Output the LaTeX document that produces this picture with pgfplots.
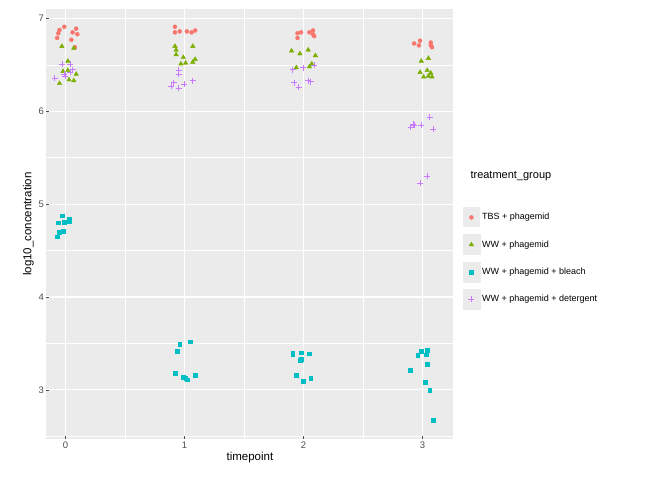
\documentclass[border=0pt]{standalone}
\usepackage{pgfplots}
\pgfplotsset{compat=1.18}
\usepackage{fontspec}
\setmainfont{Liberation Sans}
\definecolor{cR}{HTML}{F8766D}
\definecolor{cG}{HTML}{7CAE00}
\definecolor{cB}{HTML}{00BFC4}
\definecolor{cP}{HTML}{C77CFF}
\definecolor{bg}{HTML}{EBEBEB}
\definecolor{tk}{HTML}{4D4D4D}
\begin{document}
\begin{tikzpicture}[x=1pt,y=1pt]
\useasboundingbox (0,0) rectangle (672,480);
\begin{axis}[at={(39,44)},anchor=south west,scale only axis,width=407,height=430,
 xmin=-0.16,xmax=3.26,ymin=2.47,ymax=7.1,
 axis background/.style={fill=bg},axis line style={draw=none},
 xtick={0,1,2,3},ytick={3,4,5,6,7},
 minor xtick={0.5,1.5,2.5},minor ytick={2.5,3.5,4.5,5.5,6.5},
 grid=both,major grid style={white,line width=1.1pt},minor grid style={white,line width=0.5pt},
 tick style={tk,line width=0.5pt},major tick length=3pt,tick pos=left,minor tick length=0pt,
 tick label style={font=\fontsize{9.5}{11}\selectfont,text=tk},
 xticklabel style={yshift=1pt},yticklabel style={xshift=1pt},
 /pgf/number format/assume math mode=true,
 xlabel={timepoint},ylabel={log10\_concentration},
 label style={font=\fontsize{11.5}{13}\selectfont},
 xlabel style={yshift=3pt},ylabel style={yshift=-2pt},
 legend style={at={(1.015,0.42)},anchor=west,draw=none,fill=none,font=\fontsize{9}{10}\selectfont,row sep=7pt},
 legend cell align=left,
 legend image code/.code={\fill[bg] (-1pt,-10pt) rectangle (16pt,10pt); \draw[#1] plot coordinates {(7.5pt,0pt)};},
]
\addplot[only marks,mark=*,mark size=2pt,draw=none,fill=cR,mark options={draw=cR,fill=cR}] coordinates {
(-0.01,6.91)(-0.05,6.875)(-0.06,6.84)(-0.07,6.79)(0.09,6.89)(0.06,6.85)(0.10,6.83)(0.05,6.77)(0.08,6.69)
(0.92,6.91)(0.92,6.85)(0.96,6.86)(1.02,6.86)(1.06,6.85)(1.09,6.87)
(1.95,6.84)(1.95,6.79)(1.98,6.85)(2.05,6.85)(2.08,6.87)(2.09,6.81)(2.08,6.83)
(2.93,6.73)(2.97,6.71)(2.98,6.76)(3.07,6.74)(3.08,6.69)(3.07,6.71)};
\addlegendentry{TBS + phagemid}
\addplot[only marks,mark=triangle*,mark size=2.6pt,mark options={draw=cG,fill=cG}] coordinates {
(-0.03,6.70)(0.07,6.68)(0.02,6.54)(-0.02,6.43)(0.02,6.44)(0.09,6.40)(-0.05,6.30)(0.03,6.34)(0.07,6.33)
(0.92,6.70)(0.93,6.66)(0.93,6.61)(1.07,6.70)(0.99,6.58)(1.09,6.56)(0.97,6.51)(1.01,6.52)(1.07,6.53)
(1.90,6.65)(1.97,6.62)(2.04,6.66)(2.10,6.60)(1.94,6.47)(2.05,6.48)(2.07,6.51)
(2.99,6.54)(3.05,6.57)(2.98,6.42)(3.04,6.44)(3.01,6.37)(3.07,6.41)(3.08,6.37)(3.05,6.38)};
\addlegendentry{WW + phagemid}
\addplot[only marks,mark=square*,mark size=1.9pt,mark options={draw=cB,fill=cB}] coordinates {
(-0.03,4.875)(0.03,4.84)(-0.06,4.80)(-0.01,4.81)(-0.02,4.71)(-0.05,4.70)(-0.07,4.65)(0.03,4.82)
(0.96,3.49)(1.05,3.52)(0.94,3.42)(0.92,3.18)(0.99,3.14)(1.01,3.13)(1.02,3.11)(1.09,3.16)
(1.91,3.40)(1.91,3.38)(1.98,3.40)(2.05,3.39)(1.97,3.32)(1.98,3.33)(1.94,3.16)(2.00,3.09)(2.06,3.13)
(2.99,3.42)(3.04,3.43)(2.96,3.37)(3.03,3.38)(3.04,3.28)(2.90,3.21)(3.02,3.08)(3.06,3.00)(3.09,2.67)};
\addlegendentry{WW + phagemid + bleach}
\addplot[only marks,mark=+,mark size=3pt,mark options={draw=cP,line width=0.6pt}] coordinates {
(-0.03,6.51)(0.04,6.51)(0.06,6.45)(-0.09,6.36)(-0.01,6.40)(0.04,6.42)(0.00,6.38)
(0.95,6.44)(0.95,6.40)(0.91,6.31)(0.89,6.27)(0.95,6.25)(1.00,6.29)(1.07,6.33)
(1.91,6.45)(2.00,6.47)(2.09,6.50)(1.92,6.31)(1.96,6.26)(2.04,6.33)(2.06,6.32)
(2.90,5.83)(2.93,5.85)(2.92,5.86)(2.99,5.85)(3.06,5.94)(3.09,5.81)(3.04,5.30)(2.98,5.23)};
\addlegendentry{WW + phagemid + detergent}
\end{axis}
\node[anchor=west,font=\fontsize{11}{13}\selectfont] at (467,304) {treatment\_group};
\end{tikzpicture}
\end{document}
